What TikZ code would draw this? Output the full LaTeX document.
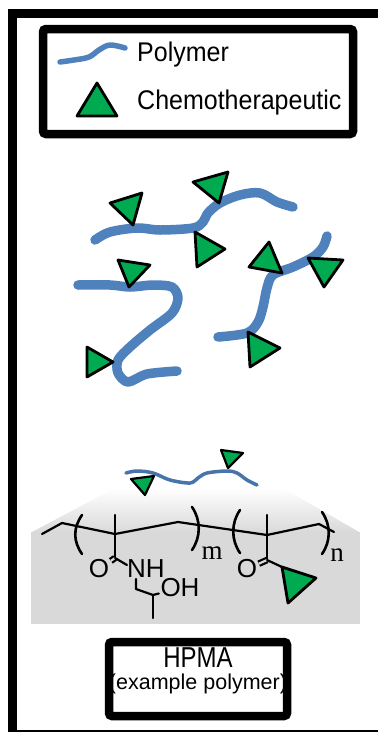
\documentclass[tikz,border=0pt]{standalone}
\usepackage{fontspec}
\setmainfont{Liberation Sans}
\newfontfamily\chemserif{Liberation Serif}
\definecolor{polyblue}{RGB}{79,129,189}
\definecolor{drugreen}{RGB}{0,170,80}
\definecolor{shadegray}{RGB}{217,217,217}
\begin{document}
\begin{tikzpicture}[x=1pt,y=-1pt,
  frameline/.style={line width=9pt},
  legendbox/.style={draw, line width=8.5pt, rounded corners=3pt},
  chain/.style={polyblue, line width=9.5pt, line cap=round, line join=round},
  legendchain/.style={polyblue, line width=5.5pt, line cap=round, line join=round},
  thinchain/.style={polyblue!90!black, line width=3.5pt, line cap=round, line join=round},
  drug/.style={draw=black, fill=drugreen, line width=2.8pt, line join=round},
  smalldrug/.style={draw=black, fill=drugreen, line width=2.2pt, line join=round},
  bond/.style={line width=2.2pt, line cap=round, line join=round},
  dbond/.style={bond, double=shadegray, double distance=2.2pt, line cap=butt},
  paren/.style={line width=2.6pt, line cap=round},
  lbl/.style={inner sep=0pt, font=\fontsize{25}{30}\selectfont},
  atom/.style={inner sep=1.5pt, font=\fontsize{26}{30}\selectfont},
  idx/.style={inner sep=0pt, font=\chemserif\fontsize{27}{30}\selectfont},
]
\useasboundingbox (0,0) rectangle (378,732);

% outer frame
\draw[frameline] (12.5,736) -- (12.5,13) -- (382,13);
\draw[line width=8pt] (8,734) -- (382,734);

% legend
\draw[legendbox] (43,29) rectangle (353,134);
\draw[legendchain] plot[smooth, tension=0.6] coordinates {(60,62) (74,60) (89,57) (99,50) (110,45) (125,48)};
\draw[drug] (97,83) -- (117,116) -- (77,116) -- cycle;
\node[lbl, anchor=base west] (legpoly) at (137,61) {\scalebox{1}[1.08]{Polymer}};
\node[lbl, anchor=base west] (legdrug) at (137,109) {\scalebox{1}[1.08]{Chemotherapeutic}};

% free polymer chains carrying drug molecules
\draw[chain] plot[smooth, tension=0.55] coordinates {(95,240) (110,232) (137,228) (160,230) (193,228) (203,222) (208,213) (220,203) (240,195) (260,193) (277,202) (293,207)};
\draw[chain] plot[smooth, tension=0.5] coordinates {(78,285) (110,285) (130,287) (153,285) (172,287) (178,298) (172,313) (150,330) (130,347) (118,360) (118,373) (128,382) (147,374) (177,371)};
\draw[chain] plot[smooth, tension=0.55] coordinates {(218,337) (247,333) (258,322) (263,307) (267,288) (273,275) (293,267) (313,257) (323,247) (327,236)};

\draw[drug] (110,203) -- (142,193) -- (133,225) -- cycle;
\draw[drug] (193,182) -- (228,172) -- (219,203) -- cycle;
\draw[drug] (195,232) -- (225,249) -- (197,267) -- cycle;
\draw[drug] (118,260) -- (150,265) -- (129,287) -- cycle;
\draw[drug] (87,347) -- (113,362) -- (87,377) -- cycle;
\draw[drug] (269,242) -- (282,273) -- (249,267) -- cycle;
\draw[drug] (308,258) -- (343,260) -- (324,287) -- cycle;
\draw[drug] (248,332) -- (280,348) -- (250,367) -- cycle;

% shaded backdrop of the repeat unit
\fill[shadegray] (31,532) rectangle (360,624);
\shade[top color=white, bottom color=shadegray] (31,532.5) -- (115,488) -- (283,488) -- (360,532.5) -- cycle;

% small polymer above the structure
\draw[thinchain] plot[smooth, tension=0.55] coordinates {(126,473) (137,471) (153,473) (170,480) (190,483) (198,478) (207,473) (227,471) (237,473) (247,480) (257,485)};
\draw[smalldrug] (131,479) -- (154,476) -- (145,495) -- cycle;
\draw[smalldrug] (221,450) -- (243,453) -- (228,468) -- cycle;

% HPMA copolymer repeat units
\coordinate (b0) at (42,534);
\coordinate (b1) at (62,523);
\coordinate (v1) at (115,534);
\coordinate (b2) at (178,522);
\coordinate (v2) at (267,535);
\coordinate (b3) at (319,524);
\coordinate (b4) at (334,532);
\draw[bond] (b0) -- (b1) -- (v1) -- (b2) -- (v2) -- (b3) -- (b4);

\coordinate (me1) at (115,515);
\coordinate (c1) at (115,558);
\draw[bond] (me1) -- (v1) -- (c1);
\node[atom] (o1) at (99,569) {O};
\node[atom] (nh) at (146,569) {NH};
\draw[dbond] (c1) -- (o1);
\draw[bond] (c1) -- (127,565);

\node[atom] (oh) at (180,588) {OH};
\coordinate (n1) at (136,579);
\coordinate (ch2) at (136,589);
\coordinate (ch) at (153,595);
\coordinate (me2) at (153,618);
\draw[bond] (n1) -- (ch2) -- (ch) -- (oh);
\draw[bond] (ch) -- (me2);

\coordinate (me3) at (267,515);
\coordinate (c2) at (267,560);
\draw[bond] (me3) -- (v2) -- (c2);
\node[atom] (o2) at (247,569) {O};
\draw[dbond] (c2) -- (o2);
\coordinate (t1) at (282,567);
\draw[bond] (c2) -- (t1);
\draw[drug] (t1) -- (316,578) -- (288,603) -- cycle;

% repeat-unit brackets and indices
\draw[paren] (82,515) .. controls (73,528) and (73,541) .. (82,554);
\draw[paren] (192,507) .. controls (201,520) and (201,537) .. (192,550);
\draw[paren] (240,510) .. controls (231,523) and (231,540) .. (240,553);
\draw[paren] (322,512) .. controls (331,525) and (331,541) .. (322,554);
\node[idx] (m) at (212,553) {m};
\node[idx] (n) at (337,555) {n};

% caption box
\draw[legendbox] (109,642) rectangle (287,716);
\node[inner sep=0pt, anchor=base, font=\fontsize{24}{28}\selectfont] (hpma) at (198,667) {\scalebox{1}[1.2]{HPMA}};
\node[inner sep=0pt, anchor=base, font=\fontsize{21.5}{26}\selectfont] (expoly) at (198,689) {(example polymer)};
\end{tikzpicture}
\end{document}
